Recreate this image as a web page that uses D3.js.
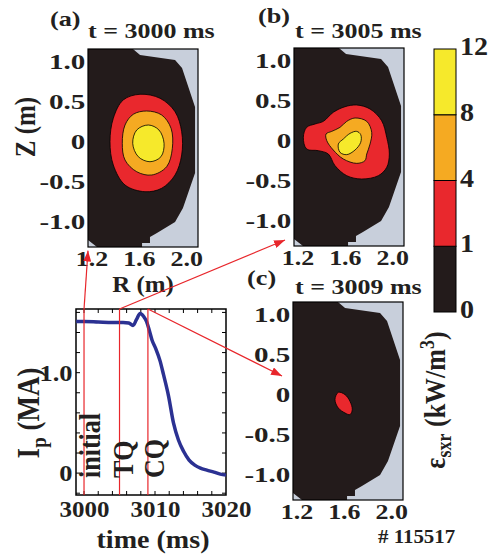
<!DOCTYPE html>
<html>
<head>
<meta charset="utf-8">
<script src="https://cdn.jsdelivr.net/npm/d3@7/dist/d3.min.js"></script>
<style>
  body { margin: 0; background: #fff; }
  text { font-family: "Liberation Serif", "Times New Roman", serif; font-weight: bold; fill: #231f20; }
</style>
</head>
<body>
<script>
// ---- data ----
const levels = [0, 1, 4, 8, 12];
const levelColors = ['#231b1b', '#e9282d', '#f5aa22', '#f6e92b'];
const panelNames = ['(a)', '(b)', '(c)'];
const panelTimes = [3000, 3005, 3009];

// plasma region (black) inside the vessel box, [R, Z]
const vessel = [[1.17, 1.15], [1.55, 1.15], [1.61, 1.075], [1.906, 1.0125], [1.965, 0.9125],
  [2.075, 0.425], [2.075, -0.40], [1.973, -0.8375], [1.906, -1.0125], [1.753, -1.15],
  [1.694, -1.20], [1.694, -1.275], [1.627, -1.275], [1.627, -1.325], [1.246, -1.325], [1.17, -1.2375]];

// contour outlines, [R, Z]
const redA = [[1.61, 0.584], [1.779, 0.534], [1.906, 0.366], [1.962, 0.116], [1.962, -0.175], [1.906, -0.425],
  [1.793, -0.591], [1.652, -0.634], [1.483, -0.55], [1.384, -0.30], [1.356, -0.009], [1.384, 0.284], [1.468, 0.513]];
const orangeA = [[1.666, 0.375], [1.793, 0.325], [1.872, 0.159], [1.883, -0.091], [1.835, -0.321], [1.709, -0.425],
  [1.582, -0.384], [1.483, -0.238], [1.46, -0.029], [1.483, 0.20], [1.553, 0.334]];
const yellowA = [[1.68, 0.20], [1.77, 0.1375], [1.813, -0.029], [1.787, -0.196], [1.694, -0.259],
  [1.595, -0.196], [1.548, -0.029], [1.582, 0.1375]];

const redB = [[1.70, 0.4375], [1.813, 0.3875], [1.911, 0.241], [1.954, 0.033], [1.976, -0.175], [1.954, -0.342],
  [1.883, -0.446], [1.742, -0.4875], [1.616, -0.446], [1.517, -0.321], [1.46, -0.175], [1.375, -0.133],
  [1.277, -0.1125], [1.249, 0.033], [1.277, 0.158], [1.348, 0.20], [1.418, 0.233], [1.502, 0.346], [1.601, 0.416]];
const orangeB = [[1.686, 0.275], [1.785, 0.233], [1.827, 0.096], [1.813, -0.05], [1.785, -0.175], [1.77, -0.258],
  [1.70, -0.292], [1.587, -0.2375], [1.502, -0.125], [1.447, -0.008], [1.441, 0.075], [1.489, 0.108],
  [1.559, 0.158], [1.616, 0.233]];
const yellowB = [[1.70, 0.108], [1.734, 0.067], [1.734, -0.029], [1.686, -0.125], [1.616, -0.183],
  [1.559, -0.154], [1.545, -0.05], [1.587, 0.0125], [1.644, 0.083]];

const redC = [[1.553, 0.021], [1.61, -0.008], [1.652, -0.092], [1.671, -0.196], [1.652, -0.258],
  [1.61, -0.2375], [1.553, -0.175], [1.525, -0.071]];

// plasma current trace
const time = [2998.9, 3000, 3002, 3004, 3005.5, 3006.3, 3006.9, 3007.4, 3007.9, 3008.4, 3008.8, 3009.2, 3009.6,
  3010.1, 3010.7, 3011.2, 3011.9, 3012.6, 3013.3, 3014.0, 3014.8, 3015.6, 3016.4, 3017.3, 3018.3, 3019.2, 3020];
const ip = [1.51, 1.51, 1.505, 1.50, 1.50, 1.495, 1.47, 1.53, 1.59, 1.56, 1.51, 1.42, 1.32,
  1.24, 1.12, 0.98, 0.77, 0.50, 0.33, 0.22, 0.13, 0.08, 0.05, 0.03, 0.01, -0.01, -0.02];

const eventNames = ['initial', 'TQ', 'CQ'];
const eventTimes = [3000, 3005, 3009];
// where each arrow ends, in the [R, Z] frame of its panel
const arrowR = [1.17, 1.094, 1.077];
const arrowZ = [-1.37, -1.25, 0.225];

const zTicks = [-1, -0.5, 0, 0.5, 1];
const rTicks = [1.2, 1.6, 2.0];
const ipTicks = [0, 1];
const timeTicks = [3000, 3010, 3020];

// ---- drawing ----
const svg = d3.select('body').append('svg')
    .attr('width', 491)
    .attr('height', 557);

const defs = svg.append('defs');
defs.append('marker')
    .attr('id', 'arrow')
    .attr('markerUnits', 'userSpaceOnUse')
    .attr('markerWidth', 11).attr('markerHeight', 8)
    .attr('refX', 11).attr('refY', 4)
    .attr('orient', 'auto')
  .append('path')
    .attr('d', 'M0,0 L11,4 L0,8 Z')
    .attr('fill', '#e8262b');

// text helper: the figure's lettering is stretched horizontally
function addText(x, y, str, size, sx, rotate, anchor) {
  return svg.append('text')
      .attr('transform', `translate(${x},${y}) scale(${sx},1)` + (rotate ? ' rotate(-90)' : ''))
      .attr('font-size', size)
      .attr('text-anchor', anchor || 'start')
      .text(str);
}

function styleTicks(g, size, sx) {
  g.attr('font-family', null).attr('font-size', null);
  g.select('.domain').remove();
  g.selectAll('text').attr('font-size', size).attr('transform', `scale(${sx},1)`);
}

// plain hyphen for negatives, like the original
const fmt1 = d => d === 0 ? '0' : d3.format('.1f')(d).replace('\u2212', '-');

const W = 110, H = 198;
const xR = d3.scaleLinear().domain([1.17, 2.10]).range([0, W]);
const yZ = d3.scaleLinear().domain([-1.325, 1.15]).range([H, 0]);
const outline = d3.line().x(d => xR(d[0])).y(d => yZ(d[1])).curve(d3.curveCatmullRomClosed);
const poly = d3.line().x(d => xR(d[0])).y(d => yZ(d[1])).curve(d3.curveLinearClosed);

const panels = [
  { x: 88, y: 49, contours: [redA, orangeA, yellowA] },
  { x: 294, y: 48, contours: [redB, orangeB, yellowB] },
  { x: 293, y: 302, contours: [redC] }
];

panels.forEach((p, i) => {
  defs.append('clipPath').attr('id', 'clip' + i)
    .append('rect').attr('width', W).attr('height', H);

  const g = svg.append('g').attr('transform', `translate(${p.x},${p.y})`);
  const inner = g.append('g').attr('clip-path', `url(#clip${i})`);
  inner.append('rect').attr('width', W).attr('height', H).attr('fill', '#c8cfdb');
  inner.append('path').attr('d', poly(vessel)).attr('fill', levelColors[0]);
  inner.selectAll('path.lvl')
    .data(p.contours)
    .enter()
    .append('path')
    .attr('class', 'lvl')
    .attr('d', d => outline(d))
    .attr('fill', (d, k) => levelColors[k + 1])
    .attr('stroke', '#000')
    .attr('stroke-width', 0.8);
  g.append('rect').attr('width', W).attr('height', H)
    .attr('fill', 'none').attr('stroke', '#000').attr('stroke-width', 1.2);

  g.append('g')
    .call(d3.axisLeft(yZ).tickValues(zTicks).tickSize(0).tickPadding(2).tickFormat(fmt1))
    .call(s => styleTicks(s, 22, 1.32));
  g.append('g')
    .attr('transform', `translate(0,${H})`)
    .call(d3.axisBottom(xR).tickValues(rTicks).tickSize(0).tickPadding(3).tickFormat(d3.format('.1f')))
    .call(s => styleTicks(s, 22, 1.18));
});

// panel letters and times
const letterPos = [[50, 26], [258, 23], [247, 285]];
const titlePos = [[88, 38], [295, 38], [295, 294]];
panelNames.forEach((n, i) => {
  addText(letterPos[i][0], letterPos[i][1], n, 21, 1.25);
  addText(titlePos[i][0], titlePos[i][1], `t = ${panelTimes[i]} ms`, 20, 1.3);
});

addText(35, 127, 'Z (m)', 25, 1.2, true, 'middle');
addText(143, 292, 'R (m)', 24, 1.04, false, 'middle');

// colour bar
const yC = d3.scalePoint().domain(levels).range([312, 49]);
const bar = svg.append('g').attr('transform', 'translate(434,0)');
bar.selectAll('rect')
  .data(levels.slice(0, -1))
  .enter()
  .append('rect')
  .attr('y', (d, k) => yC(levels[k + 1]))
  .attr('width', 22)
  .attr('height', (d, k) => yC(d) - yC(levels[k + 1]))
  .attr('fill', (d, k) => levelColors[k])
  .attr('stroke', '#000')
  .attr('stroke-width', 1);
levels.forEach(l => {
  addText(460, yC(l) + 6, String(l), 26, 1.08);
});
const cbLabel = addText(445, 400, '', 26, 1.12, true, 'middle');
cbLabel.append('tspan').text('ε');
cbLabel.append('tspan').attr('font-size', 18).attr('dy', 5).text('sxr');
cbLabel.append('tspan').attr('dy', -5).text(' (kW/m');
cbLabel.append('tspan').attr('font-size', 18).attr('dy', -10).text('3');
cbLabel.append('tspan').attr('dy', 10).text(')');

addText(378, 543, '# 115517', 19, 1.1);

// plasma current panel
const xT = d3.scaleLinear().domain([2998.87, 3020]).range([76, 226]);
const yI = d3.scaleLinear().domain([-0.218, 1.634]).range([495, 309]);

const tp = svg.append('g');
tp.append('rect')
  .attr('x', 76).attr('y', 309).attr('width', 150).attr('height', 186)
  .attr('fill', 'none').attr('stroke', '#000').attr('stroke-width', 1.5);

// minor ticks, all four sides, pointing in
const tMinor = d3.range(3000, 3020, 2);
const iMinor = d3.range(-0.2, 1.61, 0.2);
tp.selectAll('line.tb')
  .data(tMinor.flatMap(t => [[t, 495, 491], [t, 309, 313]]))
  .enter().append('line')
  .attr('x1', d => xT(d[0])).attr('x2', d => xT(d[0]))
  .attr('y1', d => d[1]).attr('y2', d => d[2])
  .attr('stroke', '#000');
tp.selectAll('line.lr')
  .data(iMinor.flatMap(v => [[v, 76, 80], [v, 226, 222]]))
  .enter().append('line')
  .attr('y1', d => yI(d[0])).attr('y2', d => yI(d[0]))
  .attr('x1', d => d[1]).attr('x2', d => d[2])
  .attr('stroke', '#000');

tp.append('g')
  .attr('transform', 'translate(76,0)')
  .call(d3.axisLeft(yI).tickValues(ipTicks).tickSize(0).tickPadding(3).tickFormat(fmt1))
  .call(s => styleTicks(s, 23, 1.15));
tp.append('g')
  .attr('transform', 'translate(0,495)')
  .call(d3.axisBottom(xT).tickValues(timeTicks).tickSize(0).tickPadding(5).tickFormat(d3.format('d')))
  .call(s => styleTicks(s, 24, 1.04));

tp.append('path')
  .datum(time.map((t, k) => [t, ip[k]]))
  .attr('d', d3.line().x(d => xT(d[0])).y(d => yI(d[1])).curve(d3.curveMonotoneX))
  .attr('fill', 'none')
  .attr('stroke', '#2b3192')
  .attr('stroke-width', 3.5);

// event markers and arrows to the contour panels
eventTimes.forEach((t, i) => {
  const x0 = xT(t);
  svg.append('line')
    .attr('x1', x0).attr('x2', x0).attr('y1', 309).attr('y2', 495)
    .attr('stroke', '#e8262b').attr('stroke-width', 1.2);
  const p = panels[i];
  svg.append('line')
    .attr('x1', x0).attr('y1', 309)
    .attr('x2', p.x + xR(arrowR[i])).attr('y2', p.y + yZ(arrowZ[i]))
    .attr('stroke', '#e8262b').attr('stroke-width', 1.2)
    .attr('marker-end', 'url(#arrow)');
});

const evX = [100, 133, 164];
eventNames.forEach((n, i) => {
  addText(evX[i], 478, n, 26, 1.1, true, 'start');
});

addText(39, 413, '', 27, 1.15, true, 'middle')
  .call(s => {
    s.append('tspan').text('I');
    s.append('tspan').attr('font-size', 19).attr('dy', 6).text('p');
    s.append('tspan').attr('dy', -6).text(' (MA)');
  });
addText(153, 548, 'time (ms)', 26, 1.08, false, 'middle');
</script>
</body>
</html>
